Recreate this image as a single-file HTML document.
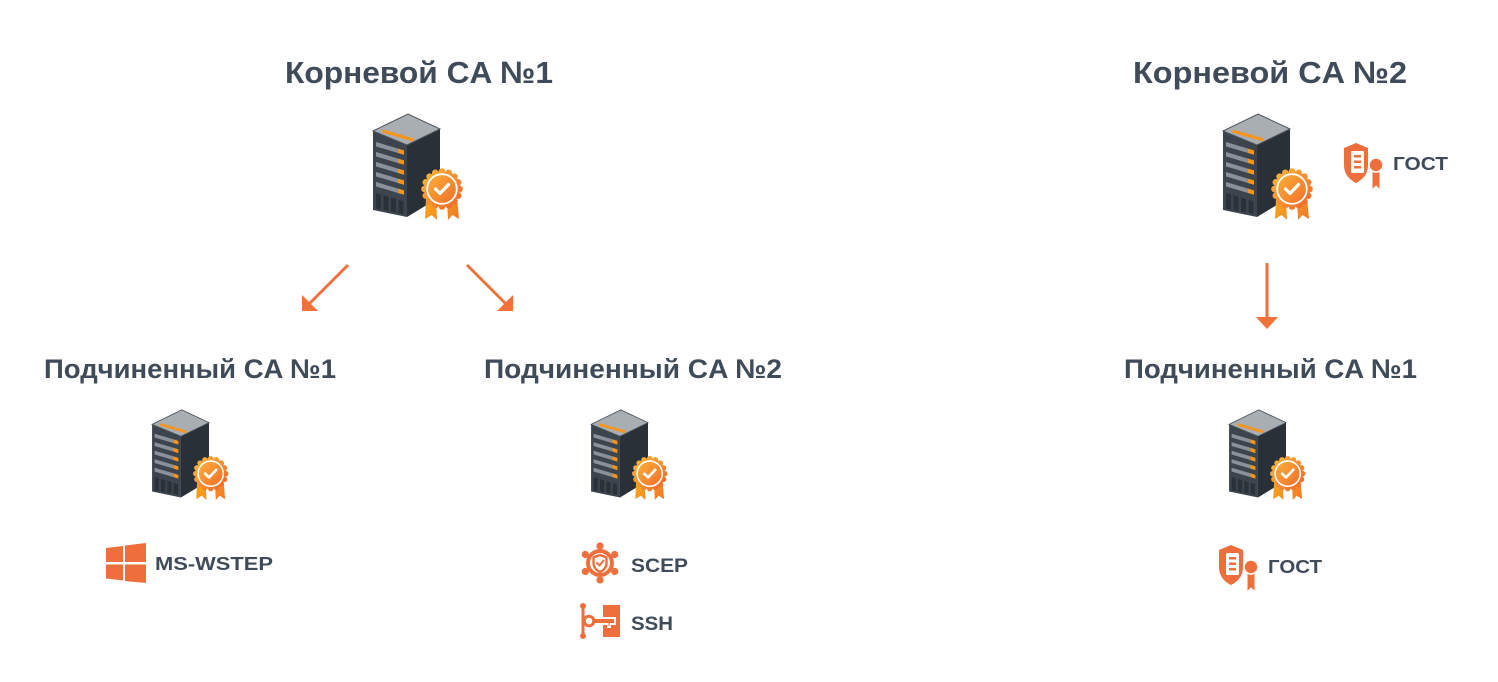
<!DOCTYPE html>
<html>
<head>
<meta charset="utf-8">
<style>
html,body{margin:0;padding:0;background:#ffffff;}
svg{display:block;}
text{font-family:"Liberation Sans","DejaVu Sans",sans-serif;font-weight:bold;fill:#3f4b58;}
</style>
</head>
<body>
<svg width="1498" height="682" viewBox="0 0 1498 682" xmlns="http://www.w3.org/2000/svg">
<defs>
  <linearGradient id="bg" gradientUnits="userSpaceOnUse" x1="66" y1="73" x2="100" y2="105">
    <stop offset="0" stop-color="#fbb338"/>
    <stop offset="1" stop-color="#f2682a"/>
  </linearGradient>
  <linearGradient id="rb" gradientUnits="userSpaceOnUse" x1="64" y1="98" x2="98" y2="120">
    <stop offset="0" stop-color="#f8a81e"/>
    <stop offset="1" stop-color="#f27a25"/>
  </linearGradient>
  <g id="srv">
    <!-- front face -->
    <polygon points="13,31 47,45 47,117 13,110" fill="#3c454e"/>
    <!-- side face -->
    <polygon points="47,45 80,29 80,97 47,117" fill="#2a3037"/>
    <!-- top face -->
    <polygon points="13,31 48,14 80,29 47,45" fill="#a9aeb3" stroke="#4b535b" stroke-width="1"/>
    <polygon points="23,29.5 54,38.5 53,41.5 22,32.5" fill="#f7941d"/>
    <!-- drawers -->
    <polygon points="16,42 38,48.6 38,53 16,46.4" fill="#8a9198"/>
    <polygon points="38,48.6 44,50.4 44,54.8 38,53" fill="#f7941d"/>
    <polygon points="16,52 38,58.6 38,63 16,56.4" fill="#8a9198"/>
    <polygon points="38,58.6 44,60.4 44,64.8 38,63" fill="#f7941d"/>
    <polygon points="16,62 38,68.6 38,73 16,66.4" fill="#8a9198"/>
    <polygon points="38,68.6 44,70.4 44,74.8 38,73" fill="#f7941d"/>
    <polygon points="16,72 38,78.6 38,83 16,76.4" fill="#8a9198"/>
    <polygon points="38,78.6 44,80.4 44,84.8 38,83" fill="#f7941d"/>
    <polygon points="16,82 38,88.6 38,93 16,86.4" fill="#8a9198"/>
    <polygon points="38,88.6 44,90.4 44,94.8 38,93" fill="#f7941d"/>
    <!-- vents -->
    <polygon points="16,93 21,94.5 21,109.5 16,108.5" fill="#2b3138"/>
    <polygon points="23.5,95.2 28.5,96.7 28.5,111 23.5,110" fill="#2b3138"/>
    <polygon points="31,97.5 36,99 36,112.5 31,111.5" fill="#2b3138"/>
    <polygon points="38.5,99.7 43.5,101.2 43.5,114 38.5,113" fill="#2b3138"/>
    <!-- ribbons -->
    <polygon points="66,98 76,100 77,120 71.5,115 65,119" fill="url(#rb)"/>
    <polygon points="87,100 97,98 99,119 92.5,115 88,120" fill="url(#rb)"/>
    <!-- scalloped badge -->
    <g fill="url(#bg)">
      <circle cx="82" cy="89" r="18"/>
      <circle cx="99.5" cy="89" r="3.3"/>
      <circle cx="98.17" cy="95.7" r="3.3"/>
      <circle cx="94.37" cy="101.37" r="3.3"/>
      <circle cx="88.7" cy="105.17" r="3.3"/>
      <circle cx="82" cy="106.5" r="3.3"/>
      <circle cx="75.3" cy="105.17" r="3.3"/>
      <circle cx="69.63" cy="101.37" r="3.3"/>
      <circle cx="65.83" cy="95.7" r="3.3"/>
      <circle cx="64.5" cy="89" r="3.3"/>
      <circle cx="65.83" cy="82.3" r="3.3"/>
      <circle cx="69.63" cy="76.63" r="3.3"/>
      <circle cx="75.3" cy="72.83" r="3.3"/>
      <circle cx="82" cy="71.5" r="3.3"/>
      <circle cx="88.7" cy="72.83" r="3.3"/>
      <circle cx="94.37" cy="76.63" r="3.3"/>
      <circle cx="98.17" cy="82.3" r="3.3"/>
    </g>
    <circle cx="82" cy="89" r="14.8" fill="none" stroke="#ffffff" stroke-width="1.8"/>
    <polyline points="75.5,89 80,93.5 88.5,84.5" fill="none" stroke="#ffffff" stroke-width="3.2" stroke-linecap="round" stroke-linejoin="round"/>
  </g>
  <g id="gost">
    <path d="M1344,148 L1356,143 L1368,148 L1368,165 Q1368,177 1356,183 Q1344,177 1344,165 Z" fill="#ef6f3c"/>
    <rect x="1351" y="151" width="13" height="22" rx="1.5" fill="#ffffff"/>
    <rect x="1354" y="155" width="7" height="2.5" fill="#ef6f3c"/>
    <rect x="1354" y="160.5" width="7" height="2.5" fill="#ef6f3c"/>
    <rect x="1354" y="166" width="7" height="2.5" fill="#ef6f3c"/>
    <polygon points="1372,170 1380,170 1380,190 1376,186 1372,190" fill="#ef6f3c" stroke="#ffffff" stroke-width="1"/>
    <circle cx="1376" cy="165" r="7" fill="#ef6f3c" stroke="#ffffff" stroke-width="1.6"/>
  </g>
</defs>

<!-- Titles -->
<text x="285" y="83" font-size="31" textLength="268" lengthAdjust="spacingAndGlyphs">Корневой CA №1</text>
<text x="1133" y="83" font-size="31" textLength="274" lengthAdjust="spacingAndGlyphs">Корневой CA №2</text>
<text x="44" y="378" font-size="27" textLength="292" lengthAdjust="spacingAndGlyphs">Подчиненный CA №1</text>
<text x="484" y="378" font-size="27" textLength="298" lengthAdjust="spacingAndGlyphs">Подчиненный CA №2</text>
<text x="1124" y="378" font-size="27" textLength="293" lengthAdjust="spacingAndGlyphs">Подчиненный CA №1</text>

<!-- Servers -->
<use href="#srv" transform="translate(360,100)"/>
<use href="#srv" transform="translate(1210,100)"/>
<use href="#srv" transform="translate(141,398) scale(0.85)"/>
<use href="#srv" transform="translate(580,398) scale(0.85)"/>
<use href="#srv" transform="translate(1218,398) scale(0.85)"/>

<!-- Arrows -->
<g stroke="#f07139" stroke-width="3" fill="none">
  <line x1="348" y1="265" x2="309" y2="304"/>
  <line x1="467" y1="265" x2="506" y2="304"/>
  <line x1="1267" y1="263" x2="1267" y2="318"/>
</g>
<g fill="#f07139">
  <polygon points="302,295 302,311 318,311"/>
  <polygon points="513,295 513,311 497,311"/>
  <polygon points="1256,317 1278,317 1267,329"/>
</g>

<!-- Windows icon + MS-WSTEP -->
<g fill="#ef6f3c">
  <polygon points="106,548 123,546 123,562 106,562"/>
  <polygon points="125,545.5 146,543 146,562 125,562"/>
  <polygon points="106,564.5 123,564.5 123,580.5 106,578.5"/>
  <polygon points="125,564.5 146,564.5 146,583 125,581"/>
</g>
<text x="155" y="570" font-size="18.5" textLength="118" lengthAdjust="spacingAndGlyphs">MS-WSTEP</text>

<!-- SCEP icon -->
<g stroke="#ef6f3c" fill="#ef6f3c">
  <g stroke-width="2.5">
    <line x1="600" y1="563" x2="600" y2="546"/>
    <line x1="600" y1="563" x2="614.7" y2="554.5"/>
    <line x1="600" y1="563" x2="614.7" y2="571.5"/>
    <line x1="600" y1="563" x2="600" y2="580"/>
    <line x1="600" y1="563" x2="585.3" y2="571.5"/>
    <line x1="600" y1="563" x2="585.3" y2="554.5"/>
  </g>
  <circle cx="600" cy="546" r="3.6" stroke="none"/>
  <circle cx="614.7" cy="554.5" r="3.6" stroke="none"/>
  <circle cx="614.7" cy="571.5" r="3.6" stroke="none"/>
  <circle cx="600" cy="580" r="3.6" stroke="none"/>
  <circle cx="585.3" cy="571.5" r="3.6" stroke="none"/>
  <circle cx="585.3" cy="554.5" r="3.6" stroke="none"/>
  <circle cx="600" cy="563" r="12" fill="#ffffff" stroke-width="4"/>
  <path d="M600,555 L606.5,557.5 L606.5,563 Q606.5,569 600,572 Q593.5,569 593.5,563 L593.5,557.5 Z" fill="#ffffff" stroke-width="2.4" stroke-linejoin="round"/>
  <polyline points="597,563 599.5,565.5 603.5,560.5" fill="none" stroke-width="2" stroke-linecap="round" stroke-linejoin="round"/>
</g>
<text x="631" y="572" font-size="19" textLength="57" lengthAdjust="spacingAndGlyphs">SCEP</text>

<!-- SSH icon -->
<g>
  <rect x="603" y="605" width="17" height="32" fill="#ef6f3c"/>
  <line x1="583" y1="606" x2="583" y2="636" stroke="#ef6f3c" stroke-width="3"/>
  <circle cx="583" cy="606" r="3" fill="#ef6f3c"/>
  <circle cx="583" cy="636" r="3" fill="#ef6f3c"/>
  <path d="M592,617 L616,617 L616,625 L611,625 L611,628 L607,628 L607,625 L592,625 Z" fill="#ffffff"/>
  <path d="M593,619 L614,619 L614,623 L609.5,623 L609.5,626 L608.5,626 L608.5,623 L593,623 Z" fill="#ef6f3c"/>
  <circle cx="589" cy="621" r="4.8" fill="#ffffff" stroke="#ef6f3c" stroke-width="3"/>
</g>
<text x="631" y="630" font-size="19" textLength="42" lengthAdjust="spacingAndGlyphs">SSH</text>

<!-- ГОСТ top -->
<use href="#gost"/>
<text x="1393" y="170" font-size="18" textLength="55" lengthAdjust="spacingAndGlyphs">ГОСТ</text>

<!-- ГОСТ bottom -->
<use href="#gost" transform="translate(-125,402)"/>
<text x="1268" y="573" font-size="18" textLength="54" lengthAdjust="spacingAndGlyphs">ГОСТ</text>
</svg>
</body>
</html>
